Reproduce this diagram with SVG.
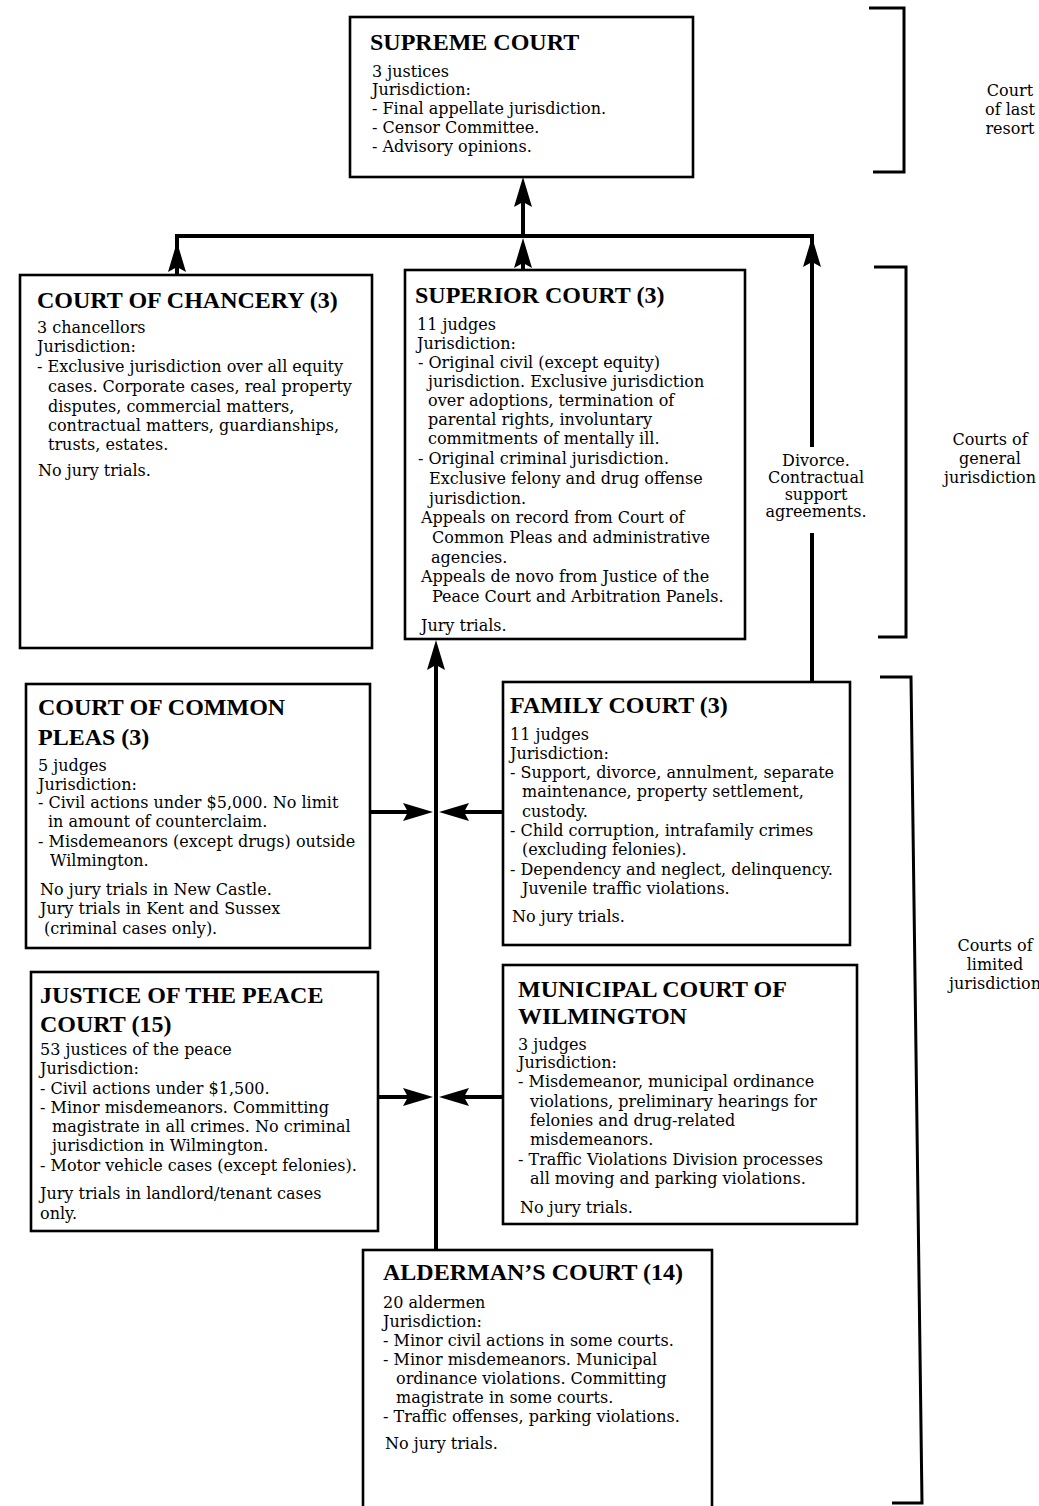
<svg xmlns="http://www.w3.org/2000/svg" xmlns:xlink="http://www.w3.org/1999/xlink" width="1039" height="1506" viewBox="0 0 1039 1506">
<style>
.box{fill:#fff;stroke:#000;stroke-width:2.6}
.t{font-family:"Liberation Serif","Times New Roman",serif;font-weight:bold;font-size:24px;fill:#000}
.b{font-family:"DejaVu Serif","Liberation Serif",serif;font-size:16px;fill:#000}
.lab{font-family:"DejaVu Serif","Liberation Serif",serif;font-size:16px;fill:#000;text-anchor:middle}
.c{stroke:#000;stroke-width:4;fill:none}
.br{stroke:#000;stroke-width:3;fill:none}
</style>
<defs>
<path id="ah" d="M0,0 L9,30 L0,25 L-9,30 Z" fill="#000"/>
</defs>
<rect width="1039" height="1506" fill="#fff"/>

<g id="connectors">
<path class="c" d="M177,274 L177,236 L812,236 L812,447"/>
<path class="c" d="M812,533 L812,683"/>
<use xlink:href="#ah" href="#ah" transform="translate(177,242)"/>
<use xlink:href="#ah" href="#ah" transform="translate(812,237)"/>
<path class="c" d="M523,236 L523,190"/>
<use xlink:href="#ah" href="#ah" transform="translate(523,177)"/>
<path class="c" d="M523,270 L523,250"/>
<use xlink:href="#ah" href="#ah" transform="translate(523,238)"/>
<path class="c" d="M436,1251 L436,655"/>
<use xlink:href="#ah" href="#ah" transform="translate(436,640)"/>
<path class="c" d="M370,812 L415,812"/>
<use xlink:href="#ah" href="#ah" transform="translate(433,812) rotate(90)"/>
<path class="c" d="M503,812 L455,812"/>
<use xlink:href="#ah" href="#ah" transform="translate(439,812) rotate(-90)"/>
<path class="c" d="M378,1097 L415,1097"/>
<use xlink:href="#ah" href="#ah" transform="translate(433,1097) rotate(90)"/>
<path class="c" d="M503,1097 L455,1097"/>
<use xlink:href="#ah" href="#ah" transform="translate(439,1097) rotate(-90)"/>
<text class="lab" x="816" y="466">Divorce.</text>
<text class="lab" x="816" y="483">Contractual</text>
<text class="lab" x="816" y="500">support</text>
<text class="lab" x="816" y="517">agreements.</text>
</g>

<g id="brackets">
<path class="br" d="M869,8 L904,8 L904,172 L873,172"/>
<path class="br" d="M874,267 L906,267 L906,637 L878,637"/>
<path class="br" d="M880,677 L911,677 L922,1503 L892,1503"/>
<text class="lab" x="1010" y="96">Court</text>
<text class="lab" x="1010" y="115">of last</text>
<text class="lab" x="1010" y="134">resort</text>
<text class="lab" x="990" y="445">Courts of</text>
<text class="lab" x="990" y="464">general</text>
<text class="lab" x="990" y="483">jurisdiction</text>
<text class="lab" x="995" y="951">Courts of</text>
<text class="lab" x="995" y="970">limited</text>
<text class="lab" x="995" y="989">jurisdiction</text>
</g>

<g id="supreme">
<rect class="box" x="350" y="17" width="343" height="160"/>
<text class="t" x="370" y="50">SUPREME COURT</text>
<text class="b" x="372" y="77">3 justices</text>
<text class="b" x="372" y="95">Jurisdiction:</text>
<text class="b" x="372" y="114">- Final appellate jurisdiction.</text>
<text class="b" x="372" y="133">- Censor Committee.</text>
<text class="b" x="372" y="152">- Advisory opinions.</text>
</g>

<g id="chancery">
<rect class="box" x="20" y="275" width="352" height="373"/>
<text class="t" x="37" y="308">COURT OF CHANCERY (3)</text>
<text class="b" x="37" y="333">3 chancellors</text>
<text class="b" x="37" y="352">Jurisdiction:</text>
<text class="b" x="37" y="372">- Exclusive jurisdiction over all equity</text>
<text class="b" x="48" y="392">cases. Corporate cases, real property</text>
<text class="b" x="48" y="412">disputes, commercial matters,</text>
<text class="b" x="48" y="431">contractual matters, guardianships,</text>
<text class="b" x="48" y="450">trusts, estates.</text>
<text class="b" x="38" y="476">No jury trials.</text>
</g>

<g id="superior">
<rect class="box" x="405" y="270" width="340" height="369"/>
<text class="t" x="415" y="303">SUPERIOR COURT (3)</text>
<text class="b" x="417" y="330">11 judges</text>
<text class="b" x="417" y="349">Jurisdiction:</text>
<text class="b" x="418" y="368">- Original civil (except equity)</text>
<text class="b" x="428" y="387">jurisdiction. Exclusive jurisdiction</text>
<text class="b" x="428" y="406">over adoptions, termination of</text>
<text class="b" x="428" y="425">parental rights, involuntary</text>
<text class="b" x="428" y="444">commitments of mentally ill.</text>
<text class="b" x="418" y="464">- Original criminal jurisdiction.</text>
<text class="b" x="429" y="484">Exclusive felony and drug offense</text>
<text class="b" x="429" y="504">jurisdiction.</text>
<text class="b" x="421" y="523">Appeals on record from Court of</text>
<text class="b" x="432" y="543">Common Pleas and administrative</text>
<text class="b" x="431" y="563">agencies.</text>
<text class="b" x="421" y="582">Appeals de novo from Justice of the</text>
<text class="b" x="432" y="602">Peace Court and Arbitration Panels.</text>
<text class="b" x="421" y="631">Jury trials.</text>
</g>

<g id="common-pleas">
<rect class="box" x="26" y="684" width="344" height="264"/>
<text class="t" x="38" y="715">COURT OF COMMON</text>
<text class="t" x="38" y="745">PLEAS (3)</text>
<text class="b" x="38" y="771">5 judges</text>
<text class="b" x="38" y="790">Jurisdiction:</text>
<text class="b" x="38" y="808">- Civil actions under $5,000. No limit</text>
<text class="b" x="48" y="827">in amount of counterclaim.</text>
<text class="b" x="38" y="847">- Misdemeanors (except drugs) outside</text>
<text class="b" x="50" y="866">Wilmington.</text>
<text class="b" x="40" y="895">No jury trials in New Castle.</text>
<text class="b" x="40" y="914">Jury trials in Kent and Sussex</text>
<text class="b" x="44" y="934">(criminal cases only).</text>
</g>

<g id="family">
<rect class="box" x="503" y="682" width="347" height="263"/>
<text class="t" x="510" y="713">FAMILY COURT (3)</text>
<text class="b" x="510" y="740">11 judges</text>
<text class="b" x="510" y="759">Jurisdiction:</text>
<text class="b" x="510" y="778">- Support, divorce, annulment, separate</text>
<text class="b" x="522" y="797">maintenance, property settlement,</text>
<text class="b" x="522" y="817">custody.</text>
<text class="b" x="510" y="836">- Child corruption, intrafamily crimes</text>
<text class="b" x="522" y="855">(excluding felonies).</text>
<text class="b" x="510" y="875">- Dependency and neglect, delinquency.</text>
<text class="b" x="522" y="894">Juvenile traffic violations.</text>
<text class="b" x="512" y="922">No jury trials.</text>
</g>

<g id="justice-of-the-peace">
<rect class="box" x="31" y="972" width="347" height="259"/>
<text class="t" x="40" y="1003">JUSTICE OF THE PEACE</text>
<text class="t" x="40" y="1032">COURT (15)</text>
<text class="b" x="40" y="1055">53 justices of the peace</text>
<text class="b" x="40" y="1074">Jurisdiction:</text>
<text class="b" x="40" y="1094">- Civil actions under $1,500.</text>
<text class="b" x="40" y="1113">- Minor misdemeanors. Committing</text>
<text class="b" x="52" y="1132">magistrate in all crimes. No criminal</text>
<text class="b" x="52" y="1151">jurisdiction in Wilmington.</text>
<text class="b" x="40" y="1171">- Motor vehicle cases (except felonies).</text>
<text class="b" x="40" y="1199">Jury trials in landlord/tenant cases</text>
<text class="b" x="40" y="1219">only.</text>
</g>

<g id="municipal">
<rect class="box" x="503" y="965" width="354" height="259"/>
<text class="t" x="518" y="997">MUNICIPAL COURT OF</text>
<text class="t" x="518" y="1024">WILMINGTON</text>
<text class="b" x="518" y="1050">3 judges</text>
<text class="b" x="518" y="1068">Jurisdiction:</text>
<text class="b" x="518" y="1087">- Misdemeanor, municipal ordinance</text>
<text class="b" x="530" y="1107">violations, preliminary hearings for</text>
<text class="b" x="530" y="1126">felonies and drug-related</text>
<text class="b" x="530" y="1145">misdemeanors.</text>
<text class="b" x="518" y="1165">- Traffic Violations Division processes</text>
<text class="b" x="530" y="1184">all moving and parking violations.</text>
<text class="b" x="520" y="1213">No jury trials.</text>
</g>

<g id="alderman">
<rect class="box" x="363" y="1250" width="349" height="280"/>
<text class="t" x="383" y="1280">ALDERMAN’S COURT (14)</text>
<text class="b" x="383" y="1308">20 aldermen</text>
<text class="b" x="383" y="1327">Jurisdiction:</text>
<text class="b" x="383" y="1346">- Minor civil actions in some courts.</text>
<text class="b" x="383" y="1365">- Minor misdemeanors. Municipal</text>
<text class="b" x="396" y="1384">ordinance violations. Committing</text>
<text class="b" x="396" y="1403">magistrate in some courts.</text>
<text class="b" x="383" y="1422">- Traffic offenses, parking violations.</text>
<text class="b" x="385" y="1449">No jury trials.</text>
</g>
</svg>
